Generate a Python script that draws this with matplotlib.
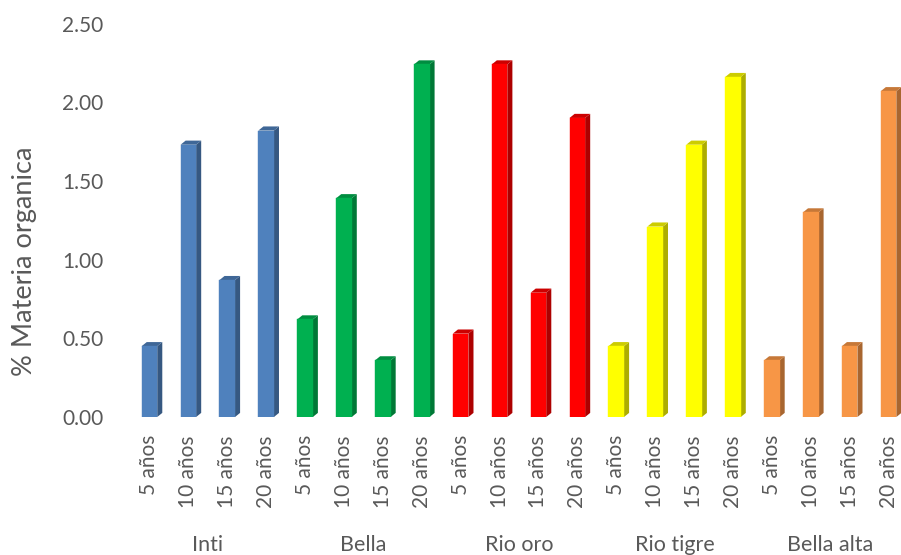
import matplotlib
matplotlib.use("Agg")
import matplotlib.pyplot as plt
from matplotlib.patches import Polygon
from matplotlib.colors import to_rgb
from matplotlib.transforms import blended_transform_factory

plt.rcParams['font.family'] = ['Lato', 'DejaVu Sans']

sites = ["Inti", "Bella", "Rio oro", "Rio tigre", "Bella alta"]
ages = ["5 años", "10 años", "15 años", "20 años"]
inti = [0.45, 1.73, 0.87, 1.82]
bella = [0.62, 1.39, 0.36, 2.24]
rio_oro = [0.53, 2.24, 0.79, 1.90]
rio_tigre = [0.45, 1.21, 1.73, 2.16]
bella_alta = [0.36, 1.30, 0.45, 2.07]
site_colors = ["#4F81BD", "#00B050", "#FF0000", "#FFFF00", "#F79646"]
y_ticks = [0.0, 0.5, 1.0, 1.5, 2.0, 2.5]

series = [inti, bella, rio_oro, rio_tigre, bella_alta]

def shade(c, f):
    r, g, b = to_rgb(c)
    return (r * f, g * f, b * f)

fig = plt.figure(figsize=(9.01, 5.55), dpi=100)
ax = fig.add_axes([130 / 901, 138 / 555, 771 / 901, 393.5 / 555])

text_color = "#595959"
width = 0.40
dx, dy = 0.13, 0.026

positions, labels = [], []
for g, (vals, col) in enumerate(zip(series, site_colors)):
    xs = [g * len(ages) + k for k in range(len(ages))]
    ax.bar(xs, vals, width=width, color=col, edgecolor=shade(col, 1.0),
           linewidth=0.3, zorder=3)
    for x, v in zip(xs, vals):
        r = x + width / 2
        l = x - width / 2
        side = Polygon([(r, 0), (r + dx, dy), (r + dx, v + dy), (r, v)],
                       closed=True, facecolor=shade(col, 0.68),
                       edgecolor="none", zorder=2)
        top = Polygon([(l, v), (r, v), (r + dx, v + dy), (l + dx, v + dy)],
                      closed=True, facecolor=shade(col, 0.8),
                      edgecolor="none", zorder=2)
        ax.add_patch(side)
        ax.add_patch(top)
    positions += xs
    labels += ages

ax.set_xlim(-0.5, 19.32)
ax.set_ylim(0, 2.5)
ax.set_yticks(y_ticks)
ax.set_yticklabels([f"{t:.2f}" for t in y_ticks])
ax.set_xticks(positions)
ax.set_xticklabels(labels, rotation=90, va="top", ha="center")
ax.tick_params(axis="y", length=0, pad=19, labelsize=15, labelcolor=text_color)
ax.tick_params(axis="x", length=0, pad=13, labelsize=15, labelcolor=text_color)
for s in ax.spines.values():
    s.set_visible(False)

trans = blended_transform_factory(ax.transData, ax.transAxes)
for g, name in enumerate(sites):
    ax.text(g * len(ages) + 1.5, -0.325, name, transform=trans, ha="center",
            va="center", fontsize=15.5, color=text_color)

fig.text(25 / 901, 1 - 261.5 / 555, "% Materia organica", rotation=90,
         ha="center", va="center", fontsize=19.5, color=text_color)

fig.savefig("out.png", dpi=100)
